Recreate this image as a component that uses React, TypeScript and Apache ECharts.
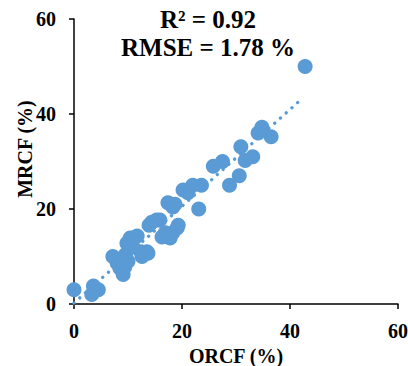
import React, { useEffect, useRef } from "react";
import * as echarts from "echarts";

const orcf = [
  0, 3.3, 3.6, 4.5, 7.2, 8, 8.5, 9, 9.1, 9.4, 9.6, 9.8, 10, 10.4, 10.9, 11.2, 11.7,
  12.4, 12.6, 13.5, 13.7, 13.9, 14.4, 15.3, 15.9, 16.3, 16.9, 17.4, 17.8, 18.3, 18.3,
  19.1, 19.3, 18.7, 20.2, 21.1, 22, 23.1, 23.6, 25.8, 27.5, 28.8, 30.6, 30.9, 31.7,
  33.1, 34.1, 34.8, 36.5, 42.8,
];
const mrcf = [
  3, 2, 3.8, 3, 10, 8.6, 7.5, 9.3, 6.2, 7.8, 10.5, 12.8, 9, 13.9, 12, 14, 14.3,
  11, 10, 11, 10.7, 16.6, 17.2, 17.7, 17.7, 14.1, 15, 21.3, 13.9, 20.4, 15,
  16, 16.6, 21, 24, 23.4, 25, 20, 25, 29, 30, 25, 27, 33.1, 30.2,
  31, 36, 37.2, 35.2, 50,
];
const trendX = [0, 42.3];
const trendY = [0.2, 43.3];
const xTicks = { min: 0, max: 60, interval: 20 };
const yTicks = { min: 0, max: 60, interval: 20 };
const statLines = ["R² = 0.92", "RMSE = 1.78 %"];
const xName = "ORCF (%)";
const yName = "MRCF (%)";

const FONT = '"Liberation Serif", "Times New Roman", serif';

export default function App() {
  const ref = useRef<HTMLDivElement>(null);
  useEffect(() => {
    if (!ref.current) return;
    const chart = echarts.init(ref.current, null, { renderer: "svg" });
    const labelStyle = {
      fontSize: 20,
      fontWeight: "bold" as const,
      fontFamily: FONT,
      color: "#000",
    };
    const axisCommon = {
      type: "value" as const,
      splitLine: { show: false },
      axisLine: { show: true, onZero: false, lineStyle: { color: "#000", width: 1.5 } },
      axisTick: { show: true, inside: false, length: 5, lineStyle: { color: "#000", width: 1.5 } },
    };
    chart.setOption({
      animation: false,
      backgroundColor: "#fff",
      grid: { left: 74, right: 10, top: 19, bottom: 62, containLabel: false, outerBoundsMode: "none" },
      xAxis: {
        ...axisCommon,
        ...xTicks,
        name: xName,
        nameLocation: "middle",
        nameGap: 38,
        nameTextStyle: labelStyle,
        axisLabel: { ...labelStyle, margin: 17 },
      },
      yAxis: {
        ...axisCommon,
        ...yTicks,
        axisLabel: { ...labelStyle, margin: 18 },
      },
      series: [
        {
          type: "scatter",
          data: orcf.map((x, i) => [x, mrcf[i]]),
          symbolSize: 15,
          itemStyle: { color: "#5B9BD5", opacity: 1 },
          z: 2,
        },
        {
          type: "line",
          data: trendX.map((x, i) => [x, trendY[i]]),
          showSymbol: false,
          symbol: "none",
          lineStyle: { color: "#5B9BD5", width: 3.3, type: [0.1, 7.6], cap: "round" },
          z: 3,
        },
      ],
      graphic: [
        ...statLines.map((t, i) => ({
          type: "text",
          x: 208,
          y: 19.5 + i * 27.5,
          style: {
            text: t,
            align: "center",
            verticalAlign: "middle",
            fontSize: 25,
            fontWeight: "bold",
            fontFamily: FONT,
            fill: "#000",
          },
        })),
        {
          type: "text",
          x: 25,
          y: 149,
          rotation: Math.PI / 2,
          style: {
            text: yName,
            align: "center",
            verticalAlign: "middle",
            fontSize: 20,
            fontWeight: "bold",
            fontFamily: FONT,
            fill: "#000",
          },
        },
      ],
    });
    return () => chart.dispose();
  }, []);
  return (
    <div
      ref={ref}
      style={{ position: "fixed", left: 0, top: 0, width: 408, height: 366, background: "#fff" }}
    />
  );
}
